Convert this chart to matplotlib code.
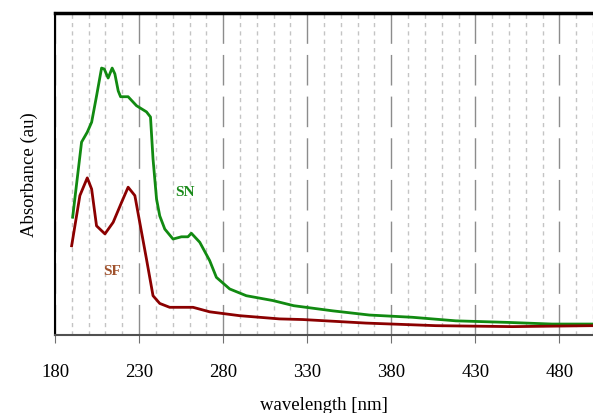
import matplotlib
matplotlib.use("Agg")
import matplotlib.pyplot as plt
from matplotlib.ticker import MultipleLocator

# spectra (wavelength in nm, absorbance in arbitrary units)
sn_wl = [190.5, 195.8, 199.2, 201.8, 204.7, 207.7, 209.3, 211.6, 214.0, 215.6,
         217.6, 219.0, 223.5, 228.5, 234.4, 236.8, 238.3, 240.4, 242.3, 245.3,
         250.2, 255.2, 259.1, 261.1, 266.1, 272.0, 276.0, 283.9, 293.8, 309.6,
         322.0, 345.2, 367.0, 392.6, 418.4, 450.0, 475.7, 500.0]
sn_abs = [0.366, 0.599, 0.630, 0.661, 0.742, 0.829, 0.826, 0.798, 0.829, 0.811,
          0.758, 0.740, 0.740, 0.712, 0.693, 0.677, 0.547, 0.422, 0.370, 0.329,
          0.298, 0.305, 0.305, 0.316, 0.288, 0.231, 0.179, 0.143, 0.122, 0.107,
          0.091, 0.075, 0.062, 0.055, 0.044, 0.039, 0.034, 0.034]

sf_wl = [189.9, 194.8, 199.2, 201.8, 204.7, 209.7, 214.6, 219.6, 223.5, 227.5,
         230.4, 234.4, 238.3, 242.3, 248.2, 262.1, 272.0, 289.8, 313.5, 327.4,
         365.0, 406.5, 452.0, 500.0]
sf_abs = [0.277, 0.433, 0.488, 0.453, 0.339, 0.314, 0.350, 0.412, 0.459, 0.433,
          0.350, 0.236, 0.122, 0.098, 0.086, 0.086, 0.072, 0.060, 0.050, 0.048,
          0.037, 0.029, 0.026, 0.029]

major_ticks = [180, 230, 280, 330, 380, 430, 480]

plt.rcParams["font.family"] = ["Liberation Serif", "DejaVu Serif"]

fig = plt.figure(figsize=(5.93, 4.14), dpi=100)
ax = fig.add_axes([55 / 593, 78 / 414, 1 - 55 / 593, 322 / 414])

ax.plot(sn_wl, sn_abs, color="#118a11", lw=2)
ax.plot(sf_wl, sf_abs, color="#8b0000", lw=2)

ax.text(257, 0.447, "SN", color="#1a8a1a", fontsize=11, fontweight="bold",
        ha="center", va="center")
ax.text(213.8, 0.199, "SF", color="#a0522d", fontsize=11, fontweight="bold",
        ha="center", va="center")

ax.set_xlim(180, 500)
ax.set_ylim(0, 1)
ax.set_xticks(major_ticks)
ax.xaxis.set_minor_locator(MultipleLocator(10))
ax.set_yticks([])

# grid: long dashes every 50 nm, small dots every 10 nm
ax.grid(which="major", axis="x", color="#8c8c8c", lw=1, dashes=(22, 8))
ax.grid(which="minor", axis="x", color="#c4c4c4", lw=1, dashes=(3, 3))

ax.tick_params(axis="x", which="major", direction="out", length=6,
               color="#707070", labelsize=13.5, pad=14)
ax.tick_params(axis="x", which="minor", length=0)

ax.spines["right"].set_visible(False)
ax.spines["top"].set_linewidth(2.5)
ax.spines["left"].set_linewidth(1.5)
ax.spines["bottom"].set_color("#505050")
ax.spines["bottom"].set_linewidth(1.5)

ax.set_xlabel("wavelength [nm]", fontsize=13.5, labelpad=12)
ax.set_ylabel("Absorbance (au)", fontsize=13.5, labelpad=12)

fig.savefig("out.png", dpi=100)
